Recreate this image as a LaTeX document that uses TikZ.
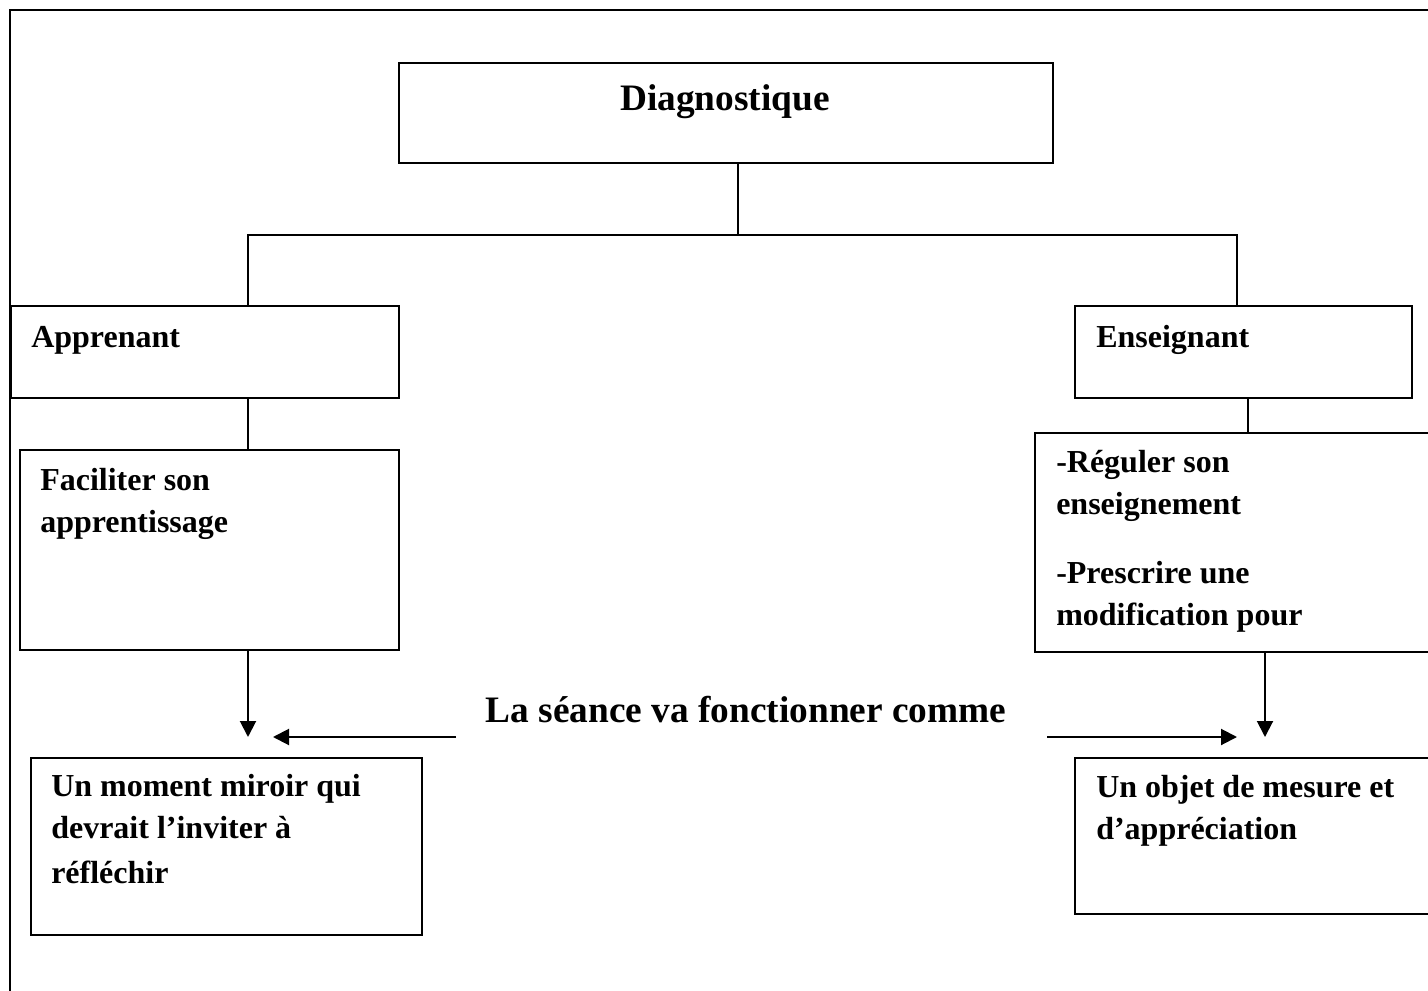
\documentclass[tikz,border=0pt]{standalone}
\usepackage{fontspec}
\setmainfont{Liberation Serif}
\usetikzlibrary{arrows.meta}

\begin{document}
\begin{tikzpicture}[x=0.75pt, y=-0.75pt,
        bx/.style={draw, line width=1.2pt, inner sep=0pt, anchor=north west},
        tx/.style={font=\bfseries\fontsize{24}{31.5}\selectfont, inner sep=0pt,
          anchor=base west, text width=320pt, align=flush left},
        ttl/.style={font=\bfseries\fontsize{28}{34}\selectfont, inner sep=0pt, anchor=base},
        ln/.style={line width=1pt},
        ar/.style={line width=1.5pt, -{Triangle[length=12pt, width=12pt]}}
      ]
      \useasboundingbox (0,0) rectangle (1428,991);
      \clip (0,0) rectangle (1428,991);
      \draw[line width=1.2pt] (10,10) rectangle (1450,1010);
      % boxes
      \node[bx, minimum width=654*0.75pt, minimum height=100*0.75pt] (diag) at (398,62) {};
      \node[bx, minimum width=388*0.75pt, minimum height=92*0.75pt] (appr) at (10,305) {};
      \node[bx, minimum width=337*0.75pt, minimum height=92*0.75pt] (ens) at (1074,305) {};
      \node[bx, minimum width=379*0.75pt, minimum height=200*0.75pt] (faci) at (19,449) {};
      \node[bx, minimum width=420*0.75pt, minimum height=219*0.75pt] (regu) at (1034,432) {};
      \node[bx, minimum width=391*0.75pt, minimum height=177*0.75pt] (miro) at (30,757) {};
      \node[bx, minimum width=380*0.75pt, minimum height=156*0.75pt] (obj) at (1074,757) {};
      % texts
      \node[ttl] (diagt) at (725,111) {Diagnostique};
      \node[tx] (apprt) at (31,348) {Apprenant};
      \node[tx] (enst) at (1096,348) {Enseignant};
      \node[tx] (facit) at (40,490) {Faciliter son\\apprentissage};
      \node[tx] (regut) at (1056,472) {-Réguler son\\enseignement\\[20.25pt]-Prescrire une\\modification pour};
      \node[tx] (mirot) at (51,796) {Un moment miroir qui\\devrait l’inviter à\\[2.25pt]réfléchir};
      \node[tx] (objt) at (1096,797) {Un objet de mesure et\\d’appréciation};
      \node[ttl] (mid) at (746,722) {La séance va fonctionner comme};
      % connectors
      \coordinate (hub) at (738,235);
      \coordinate (jl) at (248,235);
      \coordinate (jr) at (1237,235);
      \coordinate (er) at (1248,420);
      \draw[ln] (hub |- diag.south) -- (hub);
      \draw[ln] (jl |- appr.north) -- (jl) -- (jr) -- (jr |- ens.north);
      \draw[ln] (jl |- appr.south) -- (jl |- faci.north);
      \draw[ln] (er |- ens.south) -- (er |- regu.north);
      % arrows
      \coordinate (la) at (248,737);
      \coordinate (ra) at (1265,737);
      \coordinate (ls) at (456,737);
      \coordinate (le) at (273,737);
      \coordinate (rs) at (1047,737);
      \coordinate (re) at (1237,737);
      \draw[ar] (la |- faci.south) -- (la);
      \draw[ar] (ra |- regu.south) -- (ra);
      \draw[ar] (ls) -- (le);
      \draw[ar] (rs) -- (re);
    \end{tikzpicture}
\end{document}
